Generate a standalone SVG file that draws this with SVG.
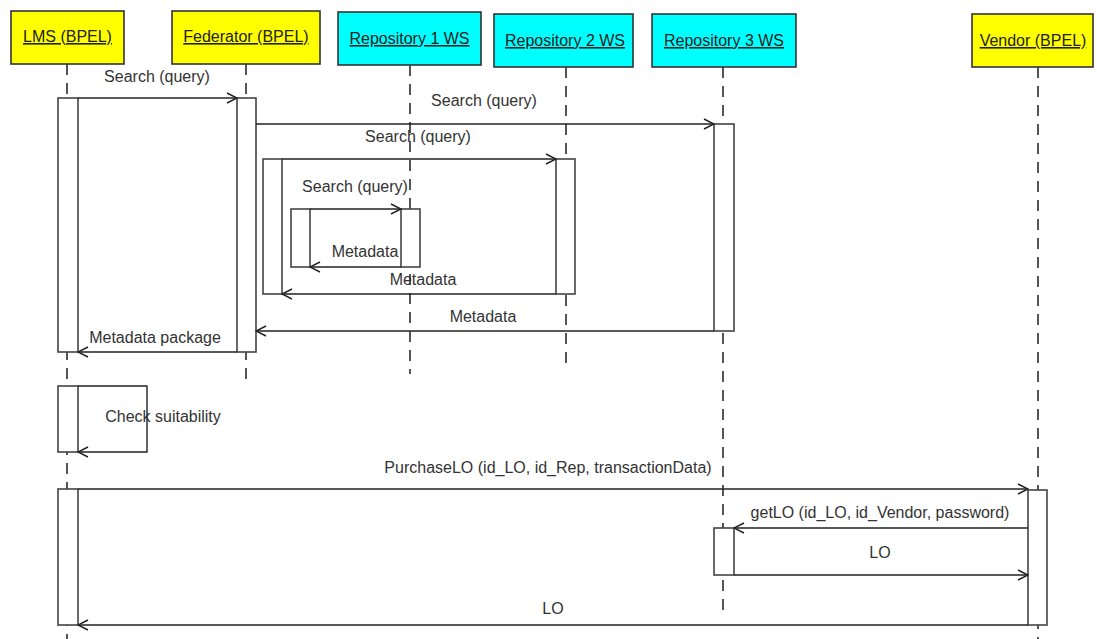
<svg xmlns="http://www.w3.org/2000/svg" width="1097" height="639" viewBox="0 0 1097 639">
<defs>
<style>
.hdr{stroke:#333;stroke-width:1.6}
.y{fill:#ffff00}
.c{fill:#00ffff}
.ht{font-family:"Liberation Sans",Arial,sans-serif;font-size:16px;fill:#222;text-anchor:middle;text-decoration:underline}
.life{stroke:#444;stroke-width:1.8;stroke-dasharray:11 8;fill:none}
.bar{fill:#fff;stroke:#444;stroke-width:1.6}
.msg{stroke:#222;stroke-width:1.4;fill:none}
.lbl{font-family:"Liberation Sans",Arial,sans-serif;font-size:16px;fill:#333;text-anchor:middle}
</style>
<marker id="arr" viewBox="0 0 12 12" refX="11" refY="6" markerWidth="12" markerHeight="12" markerUnits="userSpaceOnUse" orient="auto">
<path d="M1,1 L11,6 L1,11" fill="none" stroke="#222" stroke-width="1.4"/>
</marker>
</defs>
<rect width="1097" height="639" fill="#fff"/>
<g id="lifelines">
<line class="life" x1="67" y1="64" x2="67" y2="639"/>
<line class="life" x1="246" y1="64" x2="246" y2="381"/>
<line class="life" x1="410" y1="65" x2="410" y2="374"/>
<line class="life" x1="566" y1="67" x2="566" y2="371"/>
<line class="life" x1="723" y1="67" x2="723" y2="611"/>
<line class="life" x1="1038" y1="67" x2="1038" y2="639"/>
</g>
<g id="lms">
<rect class="hdr y" x="11" y="11" width="113" height="53"/>
<text class="ht" x="67.5" y="42">LMS (BPEL)</text>
</g>
<g id="federator">
<rect class="hdr y" x="172" y="11" width="148" height="53"/>
<text class="ht" x="246" y="42">Federator (BPEL)</text>
</g>
<g id="repo1">
<rect class="hdr c" x="338" y="12" width="143" height="53"/>
<text class="ht" x="409.5" y="44">Repository 1 WS</text>
</g>
<g id="repo2">
<rect class="hdr c" x="494" y="14" width="139" height="53"/>
<text class="ht" x="565" y="46">Repository 2 WS</text>
</g>
<g id="repo3">
<rect class="hdr c" x="652" y="14" width="144" height="53"/>
<text class="ht" x="724" y="46">Repository 3 WS</text>
</g>
<g id="vendor">
<rect class="hdr y" x="972" y="14" width="121" height="53"/>
<text class="ht" x="1033" y="46">Vendor (BPEL)</text>
</g>
<g id="activations">
<rect class="bar" x="58" y="98" width="20" height="254"/>
<rect class="bar" x="237" y="98" width="19" height="254"/>
<rect class="bar" x="714" y="124" width="20" height="207"/>
<rect class="bar" x="263" y="159" width="19" height="135"/>
<rect class="bar" x="556" y="159" width="19" height="135"/>
<rect class="bar" x="291" y="209" width="19" height="58"/>
<rect class="bar" x="401" y="209" width="19" height="58"/>
<rect class="bar" x="58" y="386" width="20" height="66"/>
<rect class="bar" x="58" y="489" width="20" height="136"/>
<rect class="bar" x="1028" y="490" width="19" height="135"/>
<rect class="bar" x="714" y="528" width="20" height="47"/>
</g>
<g id="connectors">
<line class="msg" x1="78" y1="98" x2="237" y2="98" marker-end="url(#arr)"/>
<line class="msg" x1="256" y1="124" x2="714" y2="124" marker-end="url(#arr)"/>
<line class="msg" x1="282" y1="159" x2="556" y2="159" marker-end="url(#arr)"/>
<line class="msg" x1="310" y1="209" x2="401" y2="209" marker-end="url(#arr)"/>
<line class="msg" x1="401" y1="267" x2="310" y2="267" marker-end="url(#arr)"/>
<line class="msg" x1="556" y1="294" x2="282" y2="294" marker-end="url(#arr)"/>
<line class="msg" x1="714" y1="331" x2="256" y2="331" marker-end="url(#arr)"/>
<line class="msg" x1="237" y1="352" x2="78" y2="352" marker-end="url(#arr)"/>
<polyline class="msg" points="78,386 147,386 147,452 78,452" marker-end="url(#arr)"/>
<line class="msg" x1="78" y1="489" x2="1028" y2="489" marker-end="url(#arr)"/>
<line class="msg" x1="1028" y1="528" x2="734" y2="528" marker-end="url(#arr)"/>
<line class="msg" x1="734" y1="575" x2="1028" y2="575" marker-end="url(#arr)"/>
<line class="msg" x1="1028" y1="625" x2="78" y2="625" marker-end="url(#arr)"/>
</g>
<g id="labels">
<text class="lbl" x="157" y="82">Search (query)</text>
<text class="lbl" x="484" y="106">Search (query)</text>
<text class="lbl" x="418" y="142">Search (query)</text>
<text class="lbl" x="355" y="192">Search (query)</text>
<text class="lbl" x="365" y="257">Metadata</text>
<text class="lbl" x="423" y="285">Metadata</text>
<text class="lbl" x="483" y="322">Metadata</text>
<text class="lbl" x="155" y="343">Metadata package</text>
<text class="lbl" x="163" y="422">Check suitability</text>
<text class="lbl" x="548" y="473">PurchaseLO (id_LO, id_Rep, transactionData)</text>
<text class="lbl" x="880" y="518">getLO (id_LO, id_Vendor, password)</text>
<text class="lbl" x="880" y="558">LO</text>
<text class="lbl" x="553" y="614">LO</text>
</g>
</svg>
